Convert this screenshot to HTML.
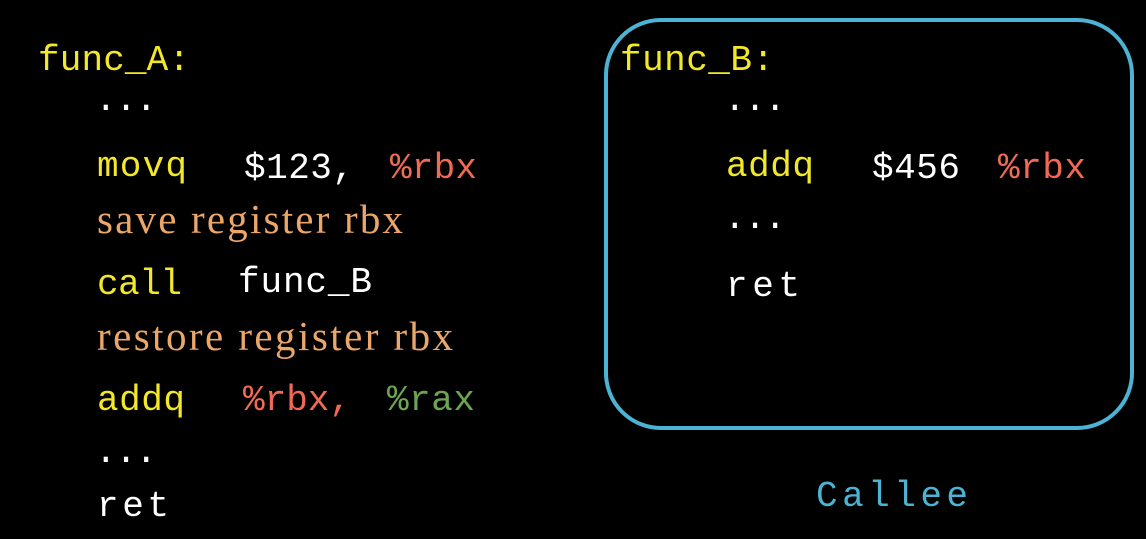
<!DOCTYPE html>
<html><head><style>html,body{margin:0;padding:0;background:#000;width:1146px;height:539px;overflow:hidden}</style></head>
<body>
<svg width="1146" height="539" xmlns="http://www.w3.org/2000/svg">
<rect width="1146" height="539" fill="#000"/>
<rect x="606" y="20" width="526" height="408" rx="55" ry="55" fill="none" stroke="#4bb3d3" stroke-width="4"/>
<g font-family="Liberation Mono, monospace" font-size="36">
<text x="38" y="70" fill="#f2e829" textLength="152">func_A:</text>
<text x="95" y="110" fill="#fff" textLength="62">...</text>
<text x="97" y="176" fill="#f2e829" textLength="90">movq</text>
<text x="244" y="178" fill="#fff" textLength="110">$123,</text>
<text x="390" y="178" fill="#f06a55" textLength="87">%rbx</text>
<text x="97" y="294" fill="#f2e829" textLength="85">call</text>
<text x="238" y="292" fill="#fff" textLength="134">func_B</text>
<text x="97" y="410" fill="#f2e829" textLength="88">addq</text>
<text x="243" y="410" fill="#f06a55" textLength="108">%rbx,</text>
<text x="387" y="410" fill="#6ca453" textLength="88">%rax</text>
<text x="95" y="462" fill="#fff" textLength="62">...</text>
<text x="97" y="516" fill="#fff" textLength="72">ret</text>
<text x="620" y="70" fill="#f2e829" textLength="154">func_B:</text>
<text x="724" y="110" fill="#fff" textLength="62">...</text>
<text x="726" y="176" fill="#f2e829" textLength="88">addq</text>
<text x="872" y="178" fill="#fff" textLength="88">$456</text>
<text x="998" y="178" fill="#f06a55" textLength="88">%rbx</text>
<text x="724" y="228" fill="#fff" textLength="62">...</text>
<text x="726" y="296" fill="#fff" textLength="74">ret</text>
<text x="816" y="506" fill="#4bb3d3" textLength="152">Callee</text>
</g>
<g font-family="Liberation Serif, serif" font-size="41" fill="#eba66a">
<text x="97" y="233" textLength="306">save register rbx</text>
<text x="97" y="350" textLength="356">restore register rbx</text>
</g>
</svg>
</body></html>
